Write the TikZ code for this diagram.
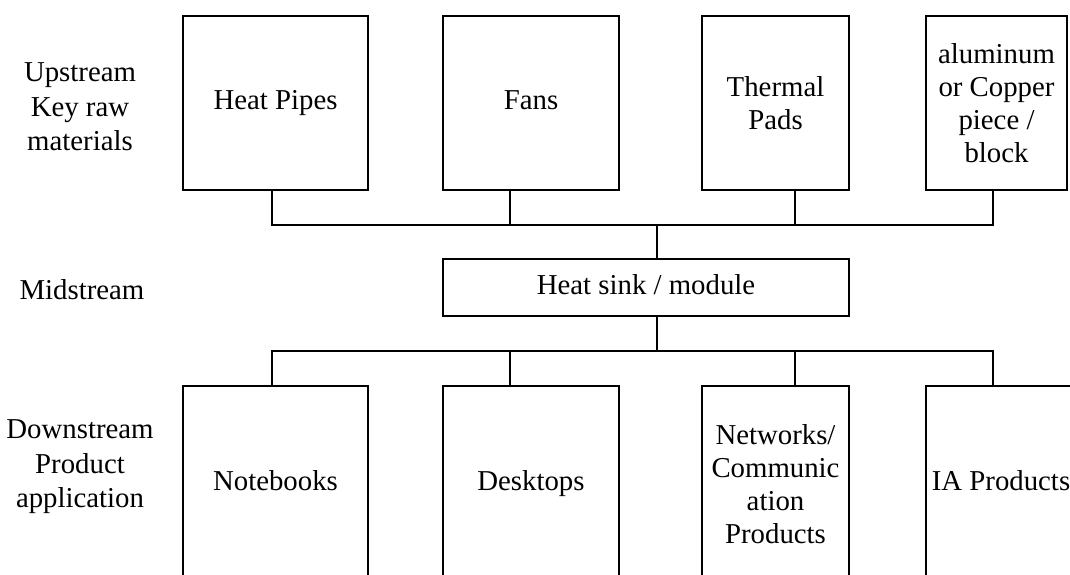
\documentclass[tikz,border=0pt]{standalone}
\usepackage{fontspec}
\setmainfont{Liberation Serif}
\begin{document}
\begin{tikzpicture}[x=1pt,y=-1pt,line width=1.8pt,
    box/.style={draw,align=center,inner sep=2pt,font=\fontsize{28.8}{33}\selectfont},
    level/.style={align=center,font=\fontsize{28.8}{34.5}\selectfont}]
    \useasboundingbox (0,0) rectangle (1070,575);
    % stage labels
    \node[level] (up) at (80,107) {Upstream\\Key raw\\materials};
    \node[level] (mid) at (82,290) {Midstream};
    \node[level] (down) at (80,467) {Downstream\\Product\\application};
    % upstream boxes
    \node[box,minimum width=185pt,minimum height=174pt] (pipes) at (275.5,103) {Heat Pipes\strut};
    \node[box,minimum width=176pt,minimum height=174pt] (fans) at (531,103) {Fans\strut};
    \node[box,minimum width=147pt,minimum height=174pt] (pads) at (775.5,103) {Thermal\\Pads};
    \node[box,minimum width=141pt,minimum height=174pt] (block) at (996.5,103) {aluminum\\or Copper\\piece /\\block};
    % midstream
    \node[box,minimum width=406pt,minimum height=57pt] (sink) at (646,287.5) {Heat sink / module\strut};
    % downstream boxes
    \node[box,minimum width=185pt,minimum height=196pt] (books) at (275.5,484) {Notebooks\strut};
    \node[box,minimum width=176pt,minimum height=196pt] (desks) at (531,484) {Desktops\strut};
    \node[box,minimum width=147pt,minimum height=196pt] (nets) at (775.5,484) {Networks/\\Communic\\ation\\Products};
    \node[box,minimum width=150pt,minimum height=196pt] (ia) at (1001,484) {IA Products\strut};
    % connectors
    \coordinate (top) at (657,225);
    \coordinate (bot) at (657,351);
    \foreach \n/\s in {pipes/-3.5,fans/-21,pads/19.5,block/-3.5} {\draw ([xshift=\s pt]\n.south) |- (top);}
    \foreach \n/\s in {books/-3.5,desks/-21,nets/19.5,ia/-8} {\draw ([xshift=\s pt]\n.north) |- (bot);}
    \draw (top) -- (top |- sink.north);
    \draw (sink.south -| bot) -- (bot);
  \end{tikzpicture}
\end{document}
